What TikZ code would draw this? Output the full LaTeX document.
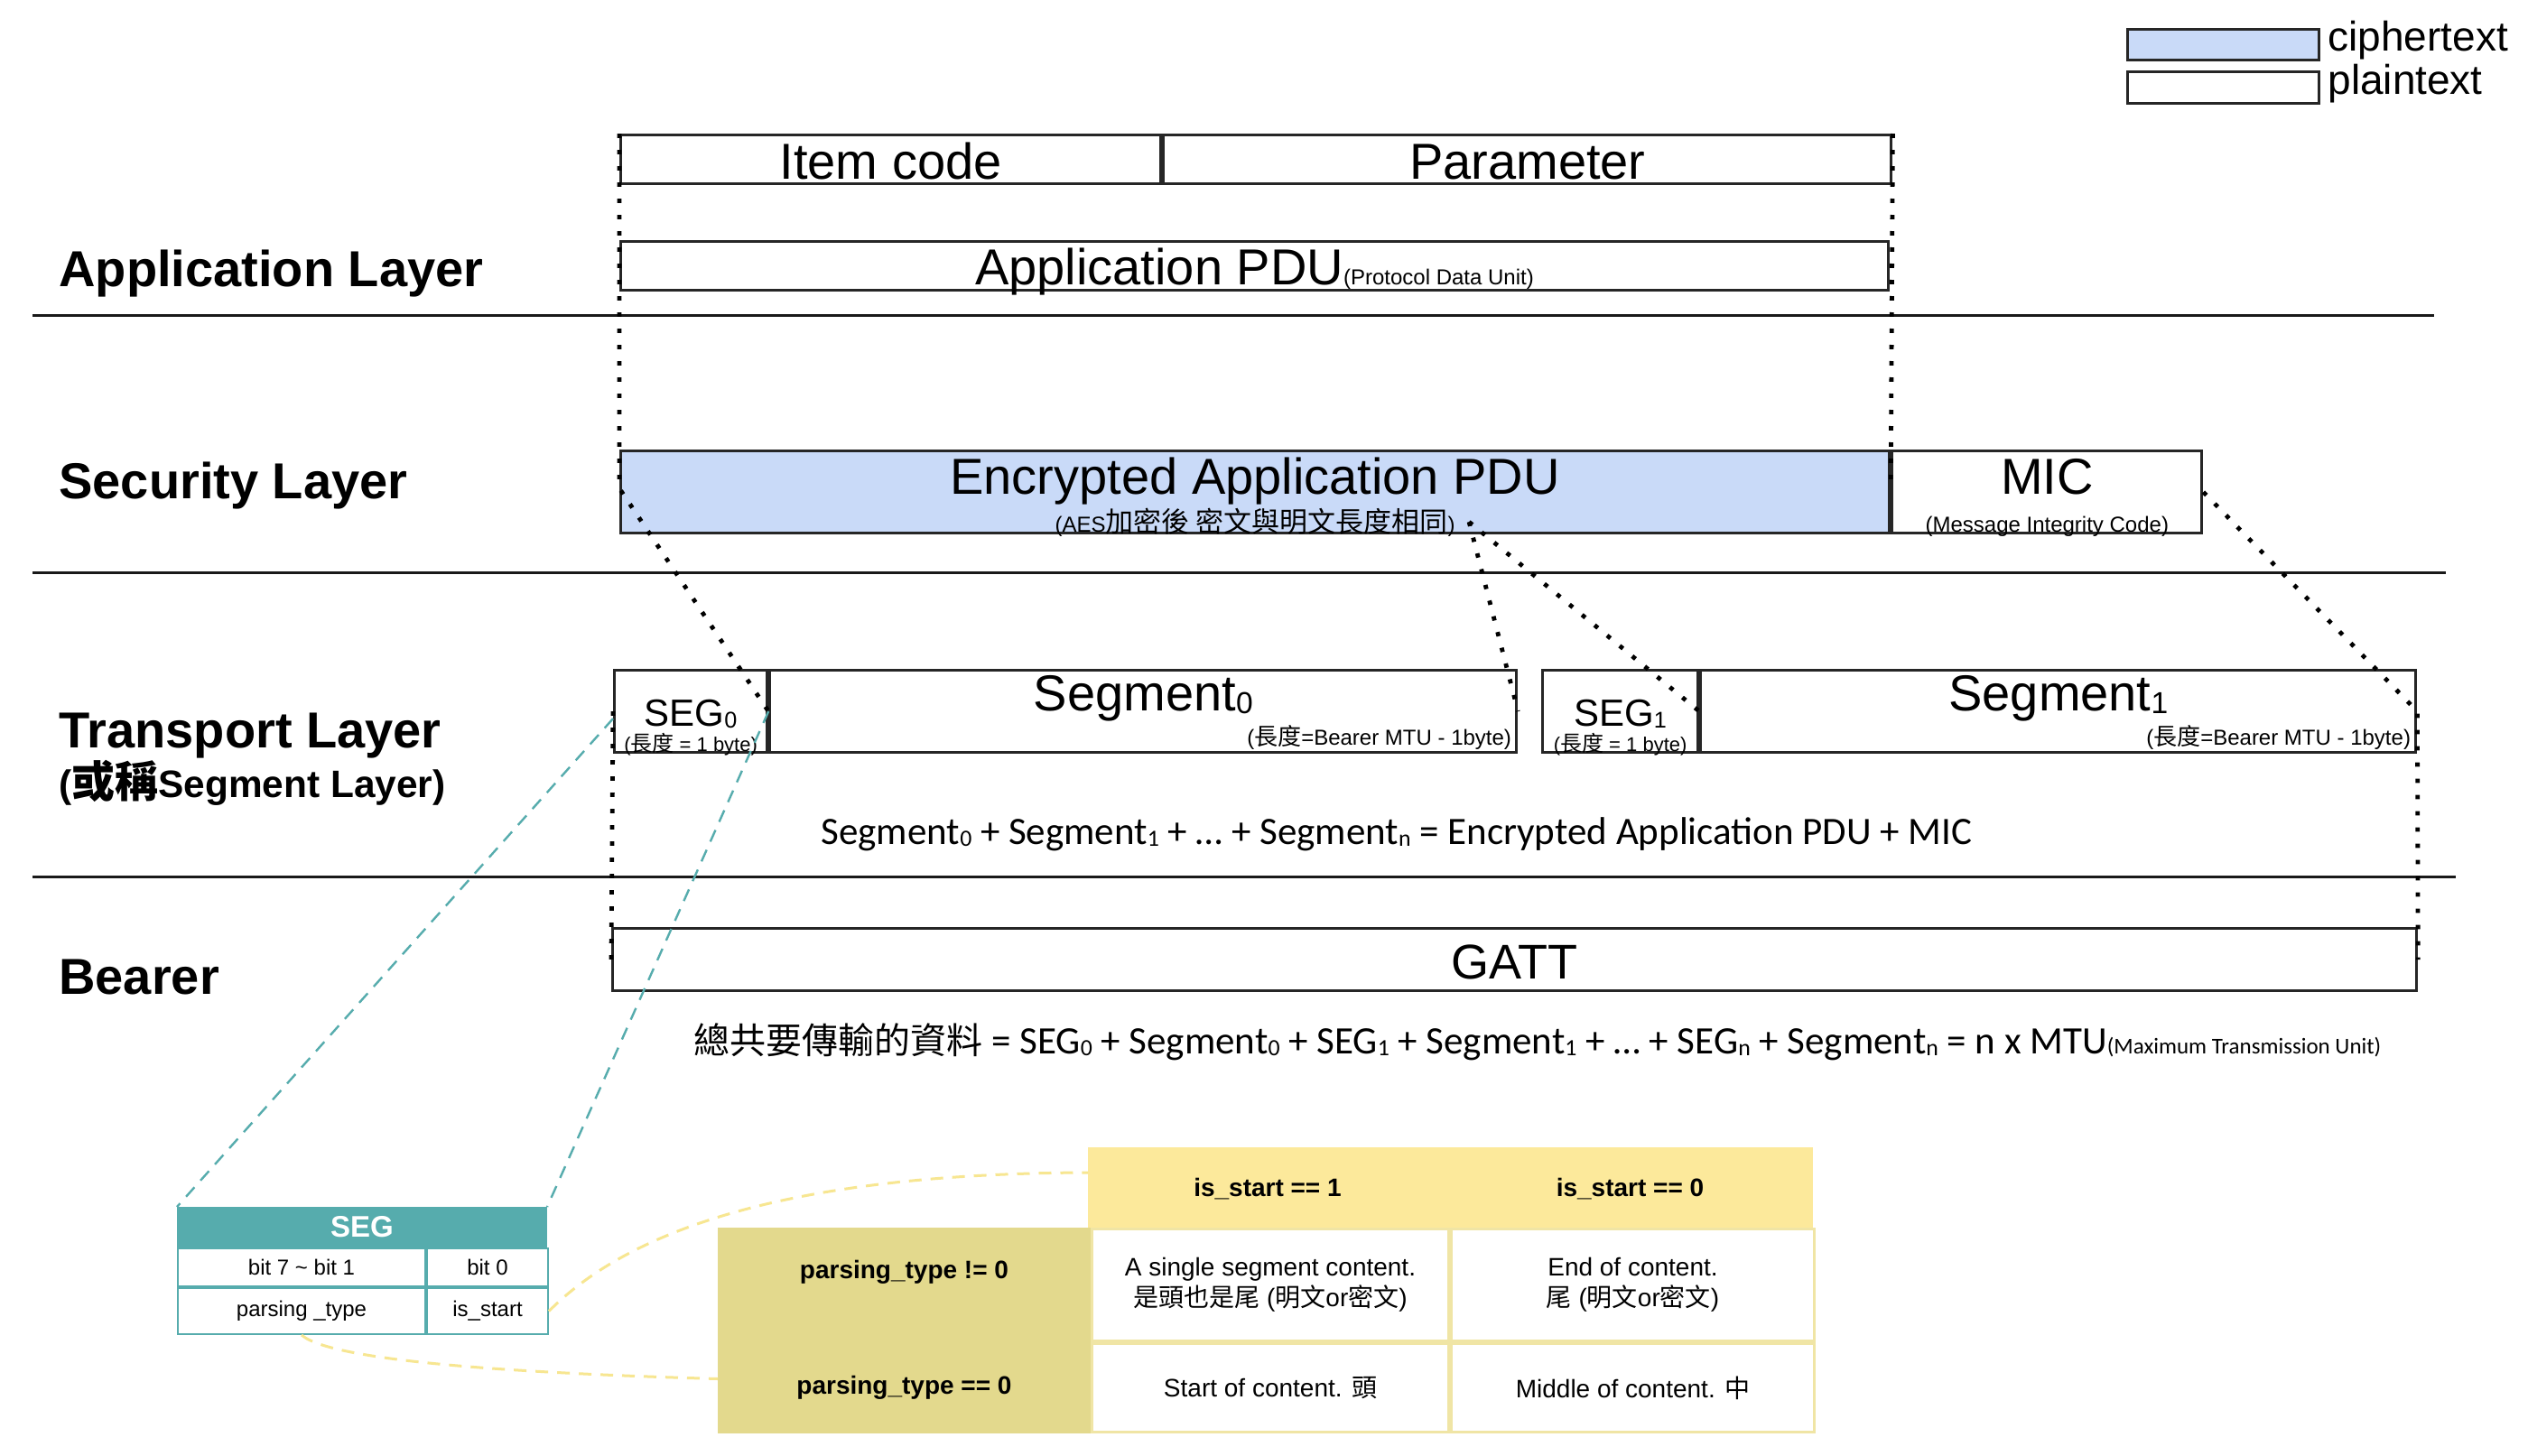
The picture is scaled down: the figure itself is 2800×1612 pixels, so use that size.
\documentclass[tikz,border=0pt]{standalone}
\usepackage{fontspec}
\setmainfont{Liberation Sans}
\newfontfamily\cjk{Noto Sans CJK TC}
\newfontfamily\calib{Carlito}
\usetikzlibrary{positioning}

\newcommand\pxsize[1]{\fontsize{#1}{#1}\selectfont}
\newcommand\zh[1]{{\cjk #1}}
\newcommand\idx[1]{\raisebox{-0.12ex}{\scalebox{0.6}{#1}}}

\definecolor{cipherblue}{RGB}{201,218,248}
\definecolor{segteal}{RGB}{86,172,173}
\definecolor{headyellow}{RGB}{252,233,155}
\definecolor{rowkhaki}{RGB}{227,217,141}
\definecolor{cellline}{RGB}{240,229,165}
\definecolor{linkyellow}{RGB}{247,230,145}

\tikzset{
  pdubox/.style={draw=black!85, line width=1.6pt, inner sep=0pt, anchor=north west},
  layer/.style={anchor=base west, inner sep=0pt, font=\pxsize{28}\bfseries},
  pdutext/.style={anchor=base, inner sep=0pt, font=\pxsize{28}},
  pdunote/.style={anchor=base, inner sep=0pt, font=\pxsize{12}},
  segtext/.style={anchor=base, inner sep=0pt, font=\pxsize{21}},
  formula/.style={anchor=base, inner sep=0pt, font=\calib\pxsize{21.5}},
  legtext/.style={anchor=base west, inner sep=0pt, font=\pxsize{23}},
  sepline/.style={line width=1.5pt, black!90},
  mapdots/.style={line width=2.4pt, dash pattern=on 2.4pt off 6.6pt},
  tealdash/.style={segteal, line width=1.2pt, dash pattern=on 7pt off 5pt},
  yellowdash/.style={linkyellow, line width=1.5pt, dash pattern=on 7pt off 5pt},
  segcell/.style={draw=segteal, line width=1pt, fill=white, inner sep=0pt,
    anchor=north west, font=\pxsize{12}},
  ytcell/.style={draw=cellline, line width=1.5pt, fill=white, inner sep=0pt,
    anchor=north west, align=center, font=\fontsize{14}{17}\selectfont},
}

\begin{document}
\begin{tikzpicture}[x=0.5pt, y=-0.5pt]
  \path[fill=white] (0,0) rectangle (2800,1612);
  \useasboundingbox (0,0) rectangle (2800,1612);

  % legend
  \node[pdubox, fill=cipherblue, minimum width=106pt, minimum height=17pt] (legcipher) at (2355,31) {};
  \node[pdubox, minimum width=106pt, minimum height=17.5pt] (legplain) at (2355,78) {};
  \node[legtext] at (2578,56) {ciphertext};
  \node[legtext] at (2578,104) {plaintext};

  % layer names and separators
  \node[layer] (applayer) at (65,317) {Application Layer};
  \node[layer] (seclayer) at (65,552) {Security Layer};
  \node[layer] (translayer) at (65,828) {Transport Layer};
  \node[layer, font=\pxsize{21.2}\bfseries] (segalias) at (65,883) {({\cjk\pxsize{24}或稱}Segment Layer)};
  \node[layer] (bearer) at (65,1101) {Bearer};
  \draw[sepline] (36,349) -- (2696,349);
  \draw[sepline] (36,634) -- (2709,634);
  \draw[sepline] (36,971) -- (2720,971);

  % application layer
  \node[pdubox, minimum width=299pt, minimum height=27pt] (itemcode) at (686,148) {};
  \node[pdubox, minimum width=403pt, minimum height=27pt] (param) at (itemcode.north east) {};
  \node[pdubox, minimum width=702pt, minimum height=27pt] (apppdu) at (686,266) {};
  \node[pdutext] at ([yshift=3.5pt]itemcode.south) {Item code};
  \node[pdutext] at ([yshift=3.5pt]param.south) {Parameter};
  \node[pdutext] at ([yshift=4pt]apppdu.south) {Application PDU{\pxsize{12}(Protocol Data Unit)}};

  % security layer
  \node[pdubox, fill=cipherblue, minimum width=702.5pt, minimum height=45.5pt] (encpdu) at (686,498) {};
  \node[pdubox, minimum width=171.5pt, minimum height=45.5pt] (mic) at (encpdu.north east) {};
  \node[pdutext] at ([yshift=22.5pt]encpdu.south) {Encrypted Application PDU};
  \node[pdunote] at ([yshift=1.5pt]encpdu.south) {(AES{\cjk\pxsize{15.5}加密後 密文與明文長度相同})};
  \node[pdutext] at ([yshift=22.5pt]mic.south) {MIC};
  \node[pdunote] at ([yshift=1.5pt]mic.south) {(Message Integrity Code)};

  % transport layer
  \node[pdubox, minimum width=84.5pt, minimum height=45.5pt] (seg0) at (679,741) {};
  \node[pdubox, minimum width=413.5pt, minimum height=45.5pt] (segm0) at (seg0.north east) {};
  \node[pdubox, minimum width=86pt, minimum height=45.5pt] (seg1) at (1707,741) {};
  \node[pdubox, minimum width=396pt, minimum height=45.5pt] (segm1) at (seg1.north east) {};
  \node[segtext] at ([yshift=15.5pt]seg0.south) {SEG\idx{0}};
  \node[pdunote, font=\pxsize{11}] at ([yshift=1.5pt]seg0.south) {({\cjk\pxsize{12}長度} = 1 byte)};
  \node[segtext] at ([yshift=15.5pt]seg1.south) {SEG\idx{1}};
  \node[pdunote, font=\pxsize{11}] at ([yshift=1.5pt]seg1.south) {({\cjk\pxsize{12}長度} = 1 byte)};
  \node[pdutext] at ([yshift=24pt]segm0.south) {Segment\idx{0}};
  \node[pdunote, anchor=base east] at ([xshift=-3.5pt,yshift=5pt]segm0.south east) {({\cjk\pxsize{13}長度}=Bearer MTU - 1byte)};
  \node[pdutext] at ([yshift=24pt]segm1.south) {Segment\idx{1}};
  \node[pdunote, anchor=base east] at ([xshift=-3.5pt,yshift=5pt]segm1.south east) {({\cjk\pxsize{13}長度}=Bearer MTU - 1byte)};
  \node[formula] (segsum) at (1547,935) {Segment\idx{0} + Segment\idx{1} + … + Segment\idx{n} = Encrypted Application PDU + MIC};

  % bearer
  \node[pdubox, minimum width=999pt, minimum height=34.5pt] (gatt) at (677,1027) {};
  \node[pdutext, font=\pxsize{27}] at ([yshift=7.5pt]gatt.south) {GATT};
  \node[formula] (total) at (1703,1167) {{\cjk\pxsize{20}總共要傳輸的資料} = SEG\idx{0} + Segment\idx{0} + SEG\idx{1} + Segment\idx{1} + … + SEG\idx{n} + Segment\idx{n} = n x MTU{\pxsize{12.5}(Maximum Transmission Unit)}};

  % where each part goes
  \coordinate (encleft) at ([yshift=-21.5pt]encpdu.north west);
  \coordinate (encright) at ([yshift=-21pt]encpdu.north east);
  \coordinate (encsplit) at ([xshift=118.5pt,yshift=7pt]encpdu.south);
  \draw[mapdots] (itemcode.north west) -- (encleft) -- (seg0.east);
  \draw[mapdots] (param.north east) -- (encright);
  \draw[mapdots] (encsplit) -- (segm0.east);
  \draw[mapdots] (encsplit) -- (seg1.east);
  \draw[mapdots] (mic.east) -- (segm1.east) -- (gatt.east);
  \draw[mapdots] (seg0.west) -- (gatt.west);

  % SEG byte
  \node[segcell, fill=segteal, minimum width=204pt, minimum height=21.5pt,
    text=white, font=\pxsize{16.5}\bfseries] (seghead) at (196,1337) {SEG};
  \node[segcell, minimum width=137pt, minimum height=21pt] (bitsA) at (seghead.south west) {bit 7 \textasciitilde{} bit 1};
  \node[segcell, minimum width=67pt, minimum height=21pt] (bitsB) at (bitsA.north east) {bit 0};
  \node[segcell, minimum width=137pt, minimum height=25.5pt] (parsetype) at (bitsA.south west) {parsing \_type};
  \node[segcell, minimum width=67pt, minimum height=25.5pt] (isstart) at (parsetype.north east) {is\_start};
  \draw[tealdash] ([yshift=-4pt]seg0.west) -- (seghead.north west);
  \draw[tealdash] (seg0.east) -- (seghead.north east);

  % meaning of the two fields
  \node[ytcell, fill=headyellow, draw=headyellow, minimum width=197.5pt, minimum height=44.5pt,
    font=\pxsize{14}\bfseries] (hdone) at (1205,1271) {is\_start == 1};
  \node[ytcell, fill=headyellow, draw=headyellow, minimum width=201pt, minimum height=44.5pt,
    font=\pxsize{14}\bfseries] (hdzero) at (hdone.north east) {is\_start == 0};
  \node[ytcell, fill=rowkhaki, draw=rowkhaki, minimum width=205pt, minimum height=62pt] (rowne) at (795,1360) {};
  \node[ytcell, fill=rowkhaki, draw=rowkhaki, minimum width=205pt, minimum height=49pt] (roweq) at (rowne.south west) {};
  \node[font=\pxsize{14}\bfseries, inner sep=0pt] at ([yshift=7pt]rowne.center) {parsing\_type != 0};
  \node[font=\pxsize{14}\bfseries, inner sep=0pt] at (roweq.center) {parsing\_type == 0};
  \node[ytcell, minimum width=197.5pt, minimum height=62pt] (single) at (rowne.north east) {A single segment content.\\\zh{是頭也是尾} (\zh{明文}or\zh{密文})};
  \node[ytcell, minimum width=201pt, minimum height=62pt] (endc) at (single.north east) {End of content.\\\zh{尾} (\zh{明文}or\zh{密文})};
  \node[ytcell, minimum width=197.5pt, minimum height=49pt] (startc) at (single.south west) {Start of content. \zh{頭}};
  \node[ytcell, minimum width=201pt, minimum height=49pt] (midc) at (startc.north east) {Middle of content. \zh{中}};
  \draw[yellowdash] (isstart.east) .. controls (700,1360) and (880,1300) .. ([yshift=9pt]hdone.west);
  \draw[yellowdash] (parsetype.south) .. controls (370,1510) and (600,1522) .. ([yshift=5pt]roweq.west);
\end{tikzpicture}
\end{document}
